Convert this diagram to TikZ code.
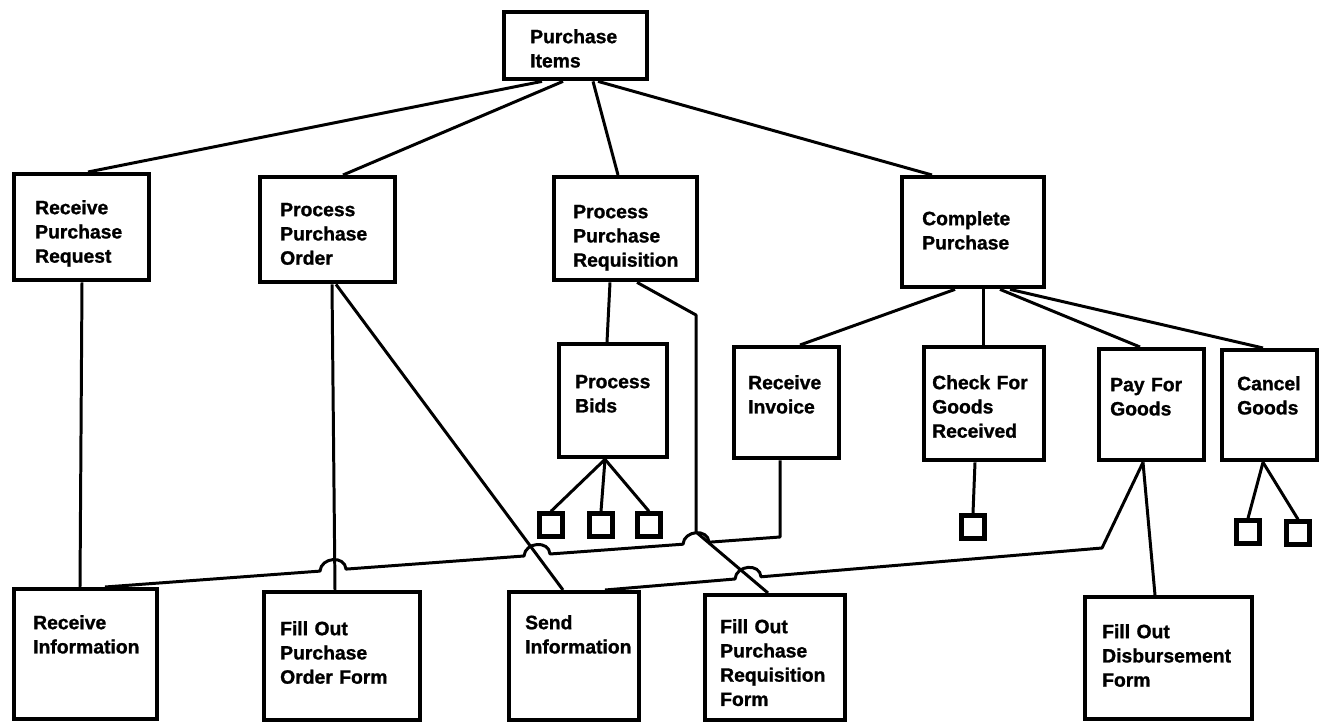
\documentclass[tikz,border=0pt]{standalone}
\usepackage{fontspec}
\setmainfont{Liberation Sans}
\newfontfamily\taskfont{Liberation Sans}[BoldFeatures={FakeBold=1.2}]
\usetikzlibrary{calc}

\begin{document}
\begin{tikzpicture}[x=0.02cm, y=-0.02cm,
    task/.style={draw, line width=2.5pt, anchor=north west, align=left,
      inner ysep=0pt, font=\taskfont\bfseries\fontsize{11}{13.8}\selectfont},
    leaf/.style={draw, line width=2.5pt, minimum size=0.46cm, inner sep=0pt},
    link/.style={line width=1.7pt, line join=round}]
  \path[use as bounding box, fill=white] (0,0) rectangle (1322,723);

  % --- top ---
  \node[task, inner xsep=0.52cm, text width=1.82cm, text height=0.62cm, text depth=0.72cm] (pi) at (502,10) {Purchase\\Items};

  % --- level 1 ---
  \node[task, inner xsep=0.42cm, text width=1.86cm, text height=0.80cm, text depth=1.32cm] (rpr) at (12,172) {Receive\\Purchase\\Request};
  \node[task, inner xsep=0.40cm, text width=1.90cm, text height=0.78cm, text depth=1.32cm] (ppo) at (258,175) {Process\\Purchase\\Order};
  \node[task, inner xsep=0.38cm, text width=2.10cm, text height=0.82cm, text depth=1.24cm] (ppr) at (552,175) {Process\\Purchase\\Requisition};
  \node[task, inner xsep=0.40cm, text width=2.04cm, text height=0.96cm, text depth=1.24cm] (cp) at (900,175) {Complete\\Purchase};

  % --- level 2 ---
  \node[task, inner xsep=0.32cm, text width=1.52cm, text height=0.88cm, text depth=1.38cm] (pb) at (557,342) {Process\\Bids};
  \node[task, inner xsep=0.28cm, text width=1.54cm, text height=0.84cm, text depth=1.38cm] (rinv) at (732,345) {Receive\\Invoice};
  \node[task, inner xsep=0.16cm, text width=2.08cm, text height=0.84cm, text depth=1.42cm] (cfg) at (922,345) {Check For\\Goods\\Received};
  \node[task, inner xsep=0.22cm, text width=1.66cm, text height=0.84cm, text depth=1.38cm] (pfg) at (1097,347) {Pay For\\Goods};
  \node[task, inner xsep=0.30cm, text width=1.30cm, text height=0.80cm, text depth=1.40cm] (cg) at (1220,348) {Cancel\\Goods};

  % --- small boxes ---
  \node[leaf] (sq1) at (551,525) {};
  \node[leaf] (sq2) at (601,525) {};
  \node[leaf] (sq3) at (649,525) {};
  \node[leaf] (sq4) at (973,527) {};
  \node[leaf] (sq5) at (1248,532) {};
  \node[leaf] (sq6) at (1298,533) {};

  % --- bottom row ---
  \node[task, inner xsep=0.38cm, text width=2.10cm, text height=0.80cm, text depth=1.80cm] (rinf) at (12,587) {Receive\\Information};
  \node[task, inner xsep=0.32cm, text width=2.48cm, text height=0.86cm, text depth=1.70cm] (fpo) at (262,590) {Fill Out\\Purchase\\Order Form};
  \node[task, inner xsep=0.32cm, text width=1.96cm, text height=0.74cm, text depth=1.82cm] (si) at (507,590) {Send\\Information};
  \node[task, inner xsep=0.30cm, text width=2.20cm, text height=0.76cm, text depth=1.74cm] (fpr) at (703,593) {Fill Out\\Purchase\\Requisition\\Form};
  \node[task, inner xsep=0.34cm, text width=2.66cm, text height=0.82cm, text depth=1.62cm] (fdf) at (1083,595) {Fill Out\\Disbursement\\Form};

  % --- links from the top ---
  \draw[link] ($(pi.south west)+(40,0)$) -- ($(rpr.north west)+(76,0)$);
  \draw[link] ($(pi.south west)+(61,0)$) -- ($(ppo.north west)+(85,0)$);
  \draw[link] ($(pi.south west)+(91,0)$) -- ($(ppr.north west)+(66,0)$);
  \draw[link] ($(pi.south west)+(96,0)$) -- ($(cp.north west)+(32,0)$);

  % --- links below level 1 ---
  \draw[link] ($(rpr.south west)+(70,0)$) -- ($(rinf.north west)+(68,0)$);
  \draw[link] ($(ppo.south west)+(74,0)$) -- ($(fpo.north west)+(73,0)$);
  \draw[link] ($(ppo.south west)+(78,0)$) -- ($(si.north west)+(56,0)$);
  \draw[link] ($(ppr.south west)+(58,0)$) -- ($(pb.north west)+(50,0)$);
  \coordinate (reqA) at (696,315);
  \coordinate (reqB) at (696,532);
  \draw[link] ($(ppr.south west)+(85,0)$) -- (reqA) -- (reqB) -- ($(fpr.north west)+(65,0)$);
  \draw[link] ($(cp.south west)+(55,0)$) -- ($(rinv.north west)+(68,0)$);
  \draw[link] ($(cp.south west)+(83,0)$) -- ($(cfg.north west)+(61,0)$);
  \draw[link] ($(cp.south west)+(100,0)$) -- ($(pfg.north west)+(43,0)$);
  \draw[link] ($(cp.south west)+(110,0)$) -- ($(cg.north west)+(43,0)$);

  % --- links below level 2 ---
  \foreach \s in {sq1,sq2,sq3}
    \draw[link] ($(pb.south west)+(48,0)$) -- (\s.north);
  \draw[link] ($(cfg.south west)+(53,0)$) -- (sq4.north);
  \foreach \s in {sq5,sq6}
    \draw[link] ($(cg.south west)+(43,0)$) -- (\s.north);
  \draw[link] ($(pfg.south west)+(46,0)$) -- ($(fdf.north west)+(72,0)$);

  % --- long links with hops ---
  \coordinate (invBend) at (780,537);
  \draw[link] ($(rinf.north west)+(93,0)$) -- (320,571.1)
    .. controls +(1,-14) and +(-1,-14) .. (346,569.1) -- (524,556.0)
    .. controls +(1,-14) and +(-1,-14) .. (550,554.0) -- (683,544.2)
    .. controls +(1,-14) and +(-1,-14) .. (709,542.2) -- (invBend)
    -- ($(rinv.south west)+(48,0)$);
  \coordinate (payBend) at (1102,548);
  \draw[link] ($(si.north west)+(98,0)$) -- (735,579.0)
    .. controls +(1,-14) and +(-1,-14) .. (761,576.8) -- (payBend)
    -- ($(pfg.south west)+(46,0)$);
\end{tikzpicture}
\end{document}
